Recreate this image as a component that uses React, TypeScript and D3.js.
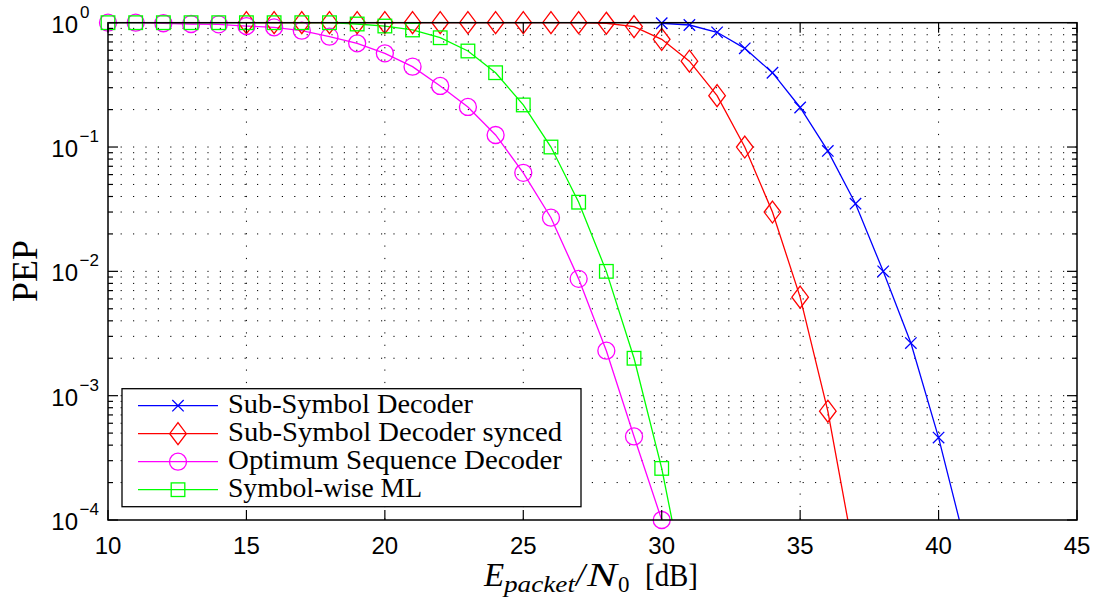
import React from "react";
import * as d3 from "d3";

const xBlue = [30, 31, 32, 33, 34, 35, 36, 37, 38, 39, 40, 41];
const blueVals = [0.99, 0.958, 0.837, 0.622, 0.396, 0.208, 0.093, 0.035, 0.01, 0.00265, 0.00046, 0.00006];

const xRed = [15, 16, 17, 18, 19, 20, 21, 22, 23, 24, 25, 26, 27, 28, 29, 30, 31, 32, 33, 34, 35, 36, 37];
const redVals = [1, 1, 1, 1, 1, 1, 1, 1, 1, 1, 1, 1, 1, 0.99, 0.93, 0.735, 0.49, 0.259, 0.1, 0.03, 0.0062, 0.00075, 0.000046];

const xMag = [10, 11, 12, 13, 14, 15, 16, 17, 18, 19, 20, 21, 22, 23, 24, 25, 26, 27, 28, 29, 30];
const magVals = [1, 1, 0.99, 0.976, 0.97, 0.94, 0.918, 0.863, 0.772, 0.683, 0.567, 0.443, 0.31, 0.21, 0.125, 0.062, 0.027, 0.0087, 0.0023, 0.00047, 0.0001];

const xGreen = [10, 11, 12, 13, 14, 15, 16, 17, 18, 19, 20, 21, 22, 23, 24, 25, 26, 27, 28, 29, 30, 31];
const greenVals = [1, 1, 1, 1, 1, 1, 1, 1, 1, 0.976, 0.94, 0.874, 0.757, 0.592, 0.396, 0.218, 0.1, 0.036, 0.01, 0.002, 0.00026, 0.00002];

const seriesNames = ["Sub-Symbol Decoder", "Sub-Symbol Decoder synced", "Optimum Sequence Decoder", "Symbol-wise ML"];
const seriesColors = ["#0000ff", "#ff0000", "#ff00ff", "#00ff00"];
const seriesMarkers = ["x", "diamond", "circle", "square"];
const xTicks = [10, 15, 20, 25, 30, 35, 40, 45];
const yExps = [0, -1, -2, -3, -4];

const L = 108, R = 1077, T = 22.7, B = 520;

function Marker({ type, x, y, color }: { type: string; x: number; y: number; color: string }) {
  const sw = 1.3;
  if (type === "x") {
    const s = 5.7;
    return (
      <path d={`M${x - s},${y - s}L${x + s},${y + s}M${x - s},${y + s}L${x + s},${y - s}`} stroke={color} strokeWidth={sw} fill="none" />
    );
  }
  if (type === "diamond") {
    const w = 8.3, h = 11;
    return <path d={`M${x},${y - h}L${x + w},${y}L${x},${y + h}L${x - w},${y}Z`} stroke={color} strokeWidth={sw} fill="none" />;
  }
  if (type === "circle") {
    return <circle cx={x} cy={y} r={8.5} stroke={color} strokeWidth={sw} fill="none" />;
  }
  const s = 6.8;
  return <rect x={x - s} y={y - s} width={2 * s} height={2 * s} stroke={color} strokeWidth={sw} fill="none" />;
}

export default function App() {
  const x = d3.scaleLinear().domain([10, 45]).range([L, R]);
  const y = d3.scaleLog().domain([1e-4, 1]).range([B, T]);
  const series = [
    { xs: xBlue, vs: blueVals },
    { xs: xRed, vs: redVals },
    { xs: xMag, vs: magVals },
    { xs: xGreen, vs: greenVals },
  ];
  const line = d3
    .line<[number, number]>()
    .x((d) => x(d[0]))
    .y((d) => y(d[1]));

  const minorY: number[] = [];
  for (let e = -4; e < 0; e++) {
    for (let m = 2; m <= 9; m++) minorY.push(m * Math.pow(10, e));
  }
  const gridY = [...minorY, 1e-3, 1e-2, 1e-1];
  const gridX = xTicks.filter((t) => t > 10 && t < 45);

  const sans = "'Liberation Sans', Arial, Helvetica, sans-serif";
  const serif = "'Liberation Serif', 'Times New Roman', Times, serif";

  const legendRows = [405.7, 433.7, 461.7, 489.7];
  const legendWidths = [245, 334, 334, 194];

  return (
    <svg width={1108} height={600} style={{ position: "absolute", left: 0, top: 0, background: "#fff" }}>
      <defs>
        <clipPath id="plotclip">
          <rect x={L} y={T} width={R - L} height={B - T} />
        </clipPath>
      </defs>
      <rect x={0} y={0} width={1108} height={600} fill="#fff" />
      {/* grid */}
      <g stroke="#000" strokeWidth={1} strokeDasharray="1.2 11.2">
        {gridY.map((v, i) => (
          <line key={"gy" + i} x1={L + 12.6} x2={R} y1={y(v)} y2={y(v)} />
        ))}
        {gridX.map((v, i) => (
          <line key={"gx" + i} x1={x(v)} x2={x(v)} y1={T + 12} y2={B} />
        ))}
      </g>
      {/* lines */}
      <g clipPath="url(#plotclip)" fill="none">
        {series.map((s, i) => (
          <path
            key={"l" + i}
            d={line(s.xs.map((xv, j) => [xv, s.vs[j]] as [number, number])) || ""}
            stroke={seriesColors[i]}
            strokeWidth={1.3}
          />
        ))}
      </g>
      {/* markers */}
      {series.map((s, i) => (
        <g key={"m" + i}>
          {s.xs.map((xv, j) =>
            s.vs[j] >= 0.99e-4 && s.vs[j] <= 1 ? (
              <Marker key={j} type={seriesMarkers[i]} x={x(xv)} y={y(s.vs[j])} color={seriesColors[i]} />
            ) : null
          )}
        </g>
      ))}
      {/* axes box */}
      <rect x={L} y={T} width={R - L} height={B - T} fill="none" stroke="#000" strokeWidth={1.5} />
      {/* ticks */}
      <g stroke="#000" strokeWidth={1.2}>
        {xTicks.map((t, i) => (
          <g key={"xt" + i}>
            <line x1={x(t)} x2={x(t)} y1={B} y2={B - 10} />
            <line x1={x(t)} x2={x(t)} y1={T} y2={T + 10} />
          </g>
        ))}
        {yExps.map((e, i) => (
          <g key={"yt" + i}>
            <line x1={L} x2={L + 10} y1={y(Math.pow(10, e))} y2={y(Math.pow(10, e))} />
            <line x1={R} x2={R - 10} y1={y(Math.pow(10, e))} y2={y(Math.pow(10, e))} />
          </g>
        ))}
        {minorY.map((v, i) => (
          <g key={"ym" + i}>
            <line x1={L} x2={L + 5} y1={y(v)} y2={y(v)} />
            <line x1={R} x2={R - 5} y1={y(v)} y2={y(v)} />
          </g>
        ))}
      </g>
      {/* tick labels */}
      <g fontFamily={sans} fontSize={24} fill="#000">
        {xTicks.map((t, i) => (
          <text key={"xl" + i} x={x(t)} y={554} textAnchor="middle">
            {t}
          </text>
        ))}
        {yExps.map((e, i) => {
          const yy = y(Math.pow(10, e));
          return (
            <g key={"yl" + i}>
              <text x={78} y={yy + 10} textAnchor="end">
                10
              </text>
              <text x={e === 0 ? 80 : 79.5} y={yy - 5} fontSize={17} textAnchor="start">
                {e === 0 ? "0" : "\u2212" + String(-e)}
              </text>
            </g>
          );
        })}
      </g>
      {/* axis labels */}
      <text
        transform="translate(37,271) rotate(-90)"
        textAnchor="middle"
        fontFamily={serif}
        fontSize={36}
        fill="#000"
      >
        PEP
      </text>
      <g fontFamily={serif} fill="#000">
        <text x={484} y={586} fontSize={33} fontStyle="italic">E</text>
        <text x={504} y={592} fontSize={24} fontStyle="italic" textLength={71} lengthAdjust="spacingAndGlyphs">packet</text>
        <text x={576} y={586} fontSize={33} fontStyle="italic">/</text>
        <text x={587} y={586} fontSize={33} fontStyle="italic" textLength={30} lengthAdjust="spacingAndGlyphs">N</text>
        <text x={618} y={592} fontSize={23}>0</text>
        <text x={645} y={586} fontSize={31} textLength={53} lengthAdjust="spacingAndGlyphs">[dB]</text>
      </g>
      {/* legend */}
      <rect x={122} y={388.7} width={459} height={118} fill="#fff" stroke="#000" strokeWidth={1.3} />
      {seriesNames.map((n, i) => (
        <g key={"lg" + i}>
          <line x1={138} x2={218} y1={legendRows[i]} y2={legendRows[i]} stroke={seriesColors[i]} strokeWidth={1.3} />
          <Marker type={seriesMarkers[i]} x={178} y={legendRows[i]} color={seriesColors[i]} />
          <text
            x={228}
            y={legendRows[i] + 7}
            fontFamily={serif}
            fontSize={28}
            fill="#000"
            textLength={legendWidths[i]}
            lengthAdjust="spacingAndGlyphs"
          >
            {n}
          </text>
        </g>
      ))}
    </svg>
  );
}
